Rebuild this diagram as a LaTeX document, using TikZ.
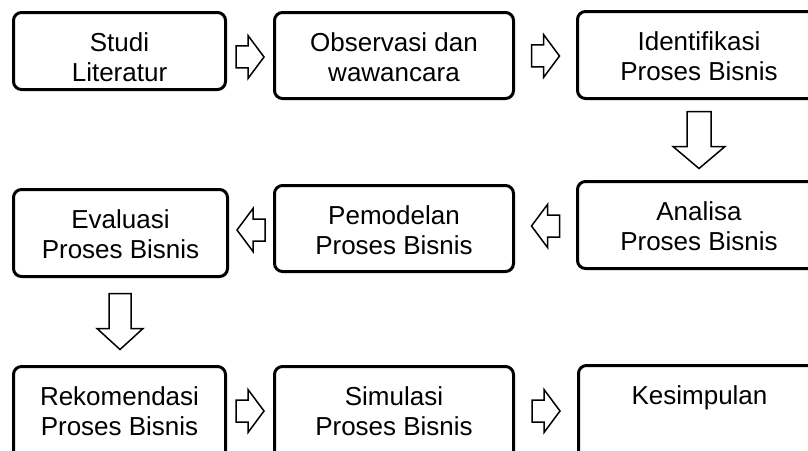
\documentclass[tikz,border=0pt]{standalone}
\usepackage{fontspec}
\setmainfont{Liberation Sans}
\usetikzlibrary{calc}

\tikzset{
  stepbox/.style={draw, rectangle, line width=3pt, rounded corners=8pt,
    inner sep=0pt, outer sep=0pt},
  boxtext/.style={anchor=north, align=center, inner sep=0pt,
    font=\fontsize{26}{30.5}\selectfont},
  arrowline/.style={draw, fill=white, line width=1.5pt, line join=miter},
  % block arrow pointing along +x: length / head length / shaft half width / head half width
  pics/blockarrow/.style args={#1/#2/#3/#4}{code={
    \path[arrowline] (-#1/2,-#3) -- (#1/2-#2,-#3) -- (#1/2-#2,-#4) -- (#1/2,0)
      -- (#1/2-#2,#4) -- (#1/2-#2,#3) -- (-#1/2,#3) -- cycle;
  }},
  harrow/.style={},
}

\begin{document}
\begin{tikzpicture}[x=1pt, y=-1pt]
  \useasboundingbox (0,0) rectangle (808,450);
  \fill[white] (0,0) rectangle (808,450);
  \clip (0,0) rectangle (808,450);

  % first row
  \node[stepbox, minimum width=212pt, minimum height=77pt] (b1) at (119.5,51) {};
  \node[stepbox, minimum width=239pt, minimum height=86pt] (b2) at (394,55.5) {};
  \node[stepbox, minimum width=243pt, minimum height=87pt] (b3) at (699,55) {};
  % second row
  \node[stepbox, minimum width=243pt, minimum height=87pt] (b4) at (699,225) {};
  \node[stepbox, minimum width=239pt, minimum height=86pt] (b5) at (394,228.5) {};
  \node[stepbox, minimum width=214pt, minimum height=87pt] (b6) at (120.5,233) {};
  % third row
  \node[stepbox, minimum width=212pt, minimum height=94pt] (b7) at (119.5,413.5) {};
  \node[stepbox, minimum width=239pt, minimum height=94pt] (b8) at (394,413.5) {};
  \node[stepbox, minimum width=242pt, minimum height=94pt] (b9) at (699.5,412.5) {};

  % labels
  \node[boxtext] (t1) at ([yshift=-19.5pt]b1.north) {Studi\\Literatur};
  \node[boxtext] (t2) at ([yshift=-19.5pt]b2.north) {Observasi dan\\wawancara};
  \node[boxtext] (t3) at ([yshift=-19.5pt]b3.north) {Identifikasi\\Proses Bisnis};
  \node[boxtext] (t4) at ([yshift=-19.5pt]b4.north) {Analisa\\Proses Bisnis};
  \node[boxtext] (t5) at ([yshift=-19.5pt]b5.north) {Pemodelan\\Proses Bisnis};
  \node[boxtext] (t6) at ([yshift=-19.5pt]b6.north) {Evaluasi\\Proses Bisnis};
  \node[boxtext] (t7) at ([yshift=-19.5pt]b7.north) {Rekomendasi\\Proses Bisnis};
  \node[boxtext] (t8) at ([yshift=-19.5pt]b8.north) {Simulasi\\Proses Bisnis};
  \node[boxtext] (t9) at ([yshift=-19.5pt]b9.north) {Kesimpulan};

  % positions of the block arrows between the boxes
  \coordinate (m1) at ($(b1.east)!0.5!(b2.west)$);
  \coordinate (m2) at ($(b2.east)!0.5!(b3.west)$);
  \coordinate (m3) at ($(b3.south)!0.5!(b4.north)$);
  \coordinate (m4) at ($(b5.east)!0.5!(b4.west)$);
  \coordinate (m5) at ($(b6.east)!0.5!(b5.west)$);
  \coordinate (m6) at ($(b6.south)!0.5!(b7.north)$);
  \coordinate (m7) at ($(b7.east)!0.5!(b8.west)$);
  \coordinate (m8) at ($(b8.east)!0.5!(b9.west)$);

  \pic at (m1 |- t2) {blockarrow=28/16/11/21.5};
  \pic at (m2 |- t3) {blockarrow=28/16/11/21.5};
  \pic[rotate=-90] at (m3) {blockarrow=57/22/12/26};
  \pic[rotate=180] at (m4 |- t4) {blockarrow=28/16/11/21.5};
  \pic[rotate=180] at (m5 |- t5) {blockarrow=28/16/11/21.5};
  \pic[rotate=-90] at (m6) {blockarrow=56/21/11/23};
  \pic at (m7 |- t8) {blockarrow=28/16/11/21.5};
  \pic at (m8 |- t8) {blockarrow=28/16/11/21.5};
\end{tikzpicture}
\end{document}
